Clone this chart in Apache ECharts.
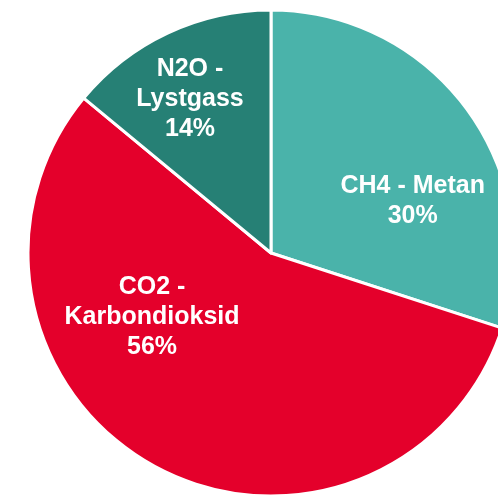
<!DOCTYPE html>
<html>
  <head>
    <meta charset="utf-8" />
    <title>Klimagasser</title>
    <script src="https://cdn.jsdelivr.net/npm/echarts@6/dist/echarts.min.js"></script>
    <style>
      html, body, #main { margin: 0; padding: 0; width: 498px; height: 497px; background: #fff; overflow: hidden; }
    </style>
  </head>
  <body>
    <div id="main"></div>
    <script>
      var names = ["CH4 - Metan", "CO2 -\nKarbondioksid", "N2O -\nLystgass"];
      var values = [30, 56, 14];
      var colors = ["#4AB3AA", "#E4002B", "#268075"];
      var offsets = [[41, 21], [-59, -45], [-28, -41]];

      var chart = echarts.init(document.getElementById("main"));
      var data = [];
      for (var i = 0; i < names.length; i++) {
        data.push({
          name: names[i],
          value: values[i],
          itemStyle: { color: colors[i] },
          label: { offset: offsets[i] }
        });
      }
      chart.setOption({
        animation: false,
        series: [{
          type: "pie",
          center: [271, 253],
          radius: 243,
          startAngle: 90,
          clockwise: true,
          itemStyle: { borderColor: "#fff", borderWidth: 3 },
          label: {
            show: true,
            position: "inside",
            color: "#fff",
            fontFamily: "Liberation Sans, Arial, sans-serif",
            fontWeight: "bold",
            fontSize: 25,
            lineHeight: 30,
            align: "center",
            formatter: function (p) { return p.name + "\n" + p.value + "%"; }
          },
          labelLine: { show: false },
          emphasis: { disabled: true },
          data: data
        }]
      });
    </script>
  </body>
</html>
